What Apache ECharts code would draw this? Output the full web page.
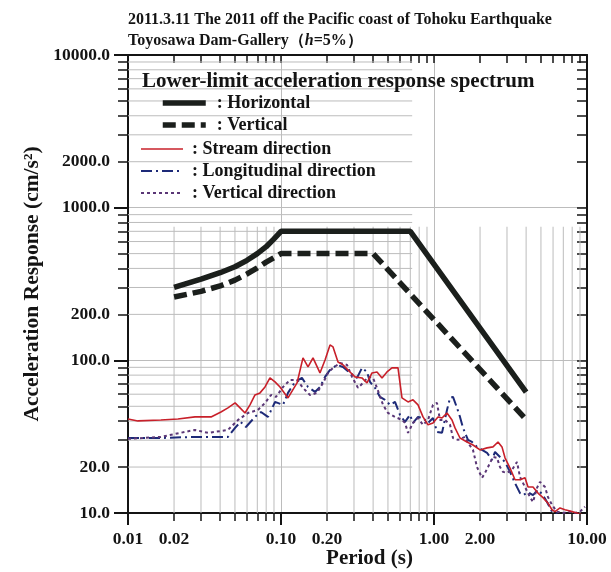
<!DOCTYPE html>
<html><head><meta charset="utf-8">
<script src="https://cdn.jsdelivr.net/npm/echarts@6/dist/echarts.min.js"></script>
<style>html,body{margin:0;padding:0;background:#fff}#c{width:611px;height:572px}</style>
</head><body><div id="c"></div>
<script>
// ---- data ----
const horizLimitPeriods = [0.02,0.03,0.04,0.05,0.06,0.07,0.08,0.09,0.1,0.7,4.0];
const horizLimitValues  = [300,340,375,410,452,500,555,625,700,700,62];
const vertLimitPeriods  = [0.02,0.03,0.04,0.05,0.06,0.07,0.08,0.09,0.1,0.4,4.0];
const vertLimitValues   = [260,283,307,335,368,403,440,470,500,500,41];

const streamPeriods = [0.01,0.0116,0.0164,0.0212,0.0274,0.0349,0.0405,0.045,0.0501,0.054,0.0582,0.0627,0.0676,0.0729,0.0786,0.0847,0.0914,0.0985,0.1111,0.1273,0.1392,0.1502,0.1619,0.1798,0.194,0.2091,0.2188,0.2358,0.2542,0.2825,0.3045,0.3383,0.3649,0.3934,0.4241,0.4573,0.4929,0.5314,0.5817,0.6176,0.6764,0.7292,0.7862,0.8476,0.9138,0.9851,1.062,1.128,1.216,1.311,1.372,1.479,1.643,1.798,1.999,2.221,2.43,2.62,2.782,2.912,3.14,3.384,3.649,3.934,4.116,4.437,4.783,5.157,5.561,5.905,6.177,6.662,7.183,7.745,8.602,9.703];
const streamValues  = [41.3,40.1,40.7,41.3,42.6,42.6,45.9,48.8,52.6,48.8,45.2,51.1,59.3,61.2,66.9,76.7,72.2,66.9,56.7,71.1,103.7,90.5,103.7,82.7,100.6,126.2,122.4,97.6,93.3,83.9,77.9,76.7,71.1,82.7,83.9,76.7,83.9,89.2,89.2,56.7,53.4,55.1,51.1,42.6,37.8,38.9,42.6,41.9,45.2,40.7,36.1,31.0,29.2,27.9,25.9,26.7,27.1,29.2,27.1,23.0,19.7,16.5,16.5,17.0,14.8,14.8,13.5,12.6,11.6,10.5,10.2,10.8,10.5,10.3,10.0,9.6];

const longPeriods = [0.01,0.0164,0.0274,0.0405,0.045,0.0501,0.0544,0.059,0.0676,0.074,0.0822,0.0914,0.1031,0.1111,0.1235,0.137,0.1502,0.1668,0.1798,0.194,0.2091,0.2323,0.2542,0.2825,0.3138,0.3383,0.3649,0.3818,0.4116,0.4437,0.4783,0.5157,0.5561,0.5995,0.6464,0.6969,0.7292,0.7862,0.8476,0.9138,0.9851,1.046,1.128,1.216,1.273,1.331,1.414,1.479,1.547,1.668,1.772,1.91,2.06,2.221,2.394,2.505,2.7,2.912,3.14,3.384,3.649,3.817,4.116,4.437,4.783,5.157,5.479,5.905,6.366,7.0];
const longValues  = [31.0,31.0,31.5,31.5,31.5,36.1,39.5,36.6,42.6,45.9,42.6,53.4,51.1,61.2,72.2,76.7,66.9,62.1,66.9,77.9,86.5,93.3,90.5,82.7,76.7,89.2,83.9,72.2,66.0,57.6,55.1,51.1,53.4,43.9,39.5,43.9,38.9,42.6,41.9,38.9,41.9,34.0,33.5,47.3,56.7,57.6,48.8,42.6,36.1,30.1,29.2,27.1,25.9,24.8,22.3,25.1,23.3,21.6,18.6,15.7,13.5,13.1,13.7,13.1,14.2,13.1,11.8,10.2,9.8,9.0];

const vertDirPeriods = [0.01,0.0164,0.0236,0.0274,0.0333,0.037,0.045,0.0524,0.0608,0.0706,0.0786,0.086,0.0928,0.1031,0.1145,0.1273,0.1392,0.1547,0.1719,0.1882,0.2029,0.2188,0.243,0.2701,0.2912,0.3186,0.3435,0.3705,0.3994,0.4241,0.4642,0.5003,0.5561,0.6176,0.6464,0.6764,0.7292,0.7862,0.8476,0.9138,0.9851,1.046,1.094,1.18,1.273,1.331,1.435,1.594,1.668,1.798,1.91,2.06,2.154,2.254,2.43,2.581,2.7,2.825,3.0,3.236,3.487,3.649,3.934,4.241,4.437,4.711,4.929,5.314,5.561,5.905,6.366,6.969,7.745,8.349,8.998,9.703];
const vertDirValues  = [30.6,31.5,34.0,35.0,33.5,34.0,35.0,40.7,45.2,47.3,52.6,59.3,57.6,66.9,74.4,74.4,66.0,59.3,61.2,71.1,82.7,89.2,96.2,93.3,77.9,66.0,71.1,77.9,76.7,66.0,51.1,45.2,42.6,40.7,38.9,33.5,38.9,41.9,37.8,40.7,51.1,52.6,40.7,40.7,37.8,31.0,30.1,31.5,28.8,25.9,20.0,17.0,18.3,20.0,23.3,23.0,20.0,18.6,18.3,19.2,21.6,17.2,14.8,12.7,11.8,14.6,16.0,14.8,12.7,11.3,10.2,10.0,10.2,10.0,10.2,11.0];

const xTickValues = [0.01,0.02,0.1,0.2,1,2,10];
const xTickLabels = ['0.01','0.02','0.10','0.20','1.00','2.00','10.00'];
const yTickValues = [10,20,100,200,1000,2000,10000];
const yTickLabels = ['10.0','20.0','100.0','200.0','1000.0','2000.0','10000.0'];

// extent of the fine grid: vertical minor lines stop at this acceleration,
// horizontal minor lines stop at this period (as in the original figure)
const gridMinorTopValue = 750;
const gridMinorRightPeriod = 0.72;

// ---- axis tick sets (log decades 1..9) ----
function minorSet(lo, hi) {
  const out = [];
  for (let d = lo; d < hi * 0.999; d *= 10) {
    for (let m = 1; m <= 9; m++) out.push(+(d * m).toPrecision(6));
  }
  out.push(hi);
  return out;
}
function decadeSet(lo, hi) {
  const out = [];
  for (let d = lo; d <= hi * 1.001; d *= 10) out.push(+d.toPrecision(6));
  return out;
}
const xMinor = minorSet(0.01, 10), xMajor = decadeSet(0.01, 10);
const yMinor = minorSet(10, 10000), yMajor = decadeSet(10, 10000);
const xMinorOnly = xMinor.filter(v => xMajor.indexOf(v) < 0);
const yMinorOnly = yMinor.filter(v => yMajor.indexOf(v) < 0);

function lookup(vals, labels) {
  return function (v) {
    for (let i = 0; i < vals.length; i++) if (Math.abs(v / vals[i] - 1) < 1e-6) return labels[i];
    return '';
  };
}
const pair = (p, v) => p.map((t, i) => [t, v[i]]);

const SERIF = "'Liberation Serif','DejaVu Serif',serif";
const INK = '#141414';
const GRID = '#bcbcbc';
const hiddenLbl = { show: false };

const chart = echarts.init(document.getElementById('c'), null, { renderer: 'canvas' });
const baseX = { type: 'log', logBase: 10, min: 0.01, max: 10, gridIndex: 0 };
const baseY = { type: 'log', logBase: 10, min: 10, max: 10000, gridIndex: 0 };

function gridLineSeries(kind) {
  return {
    type: 'custom', coordinateSystem: 'cartesian2d', silent: true, z: 1,
    xAxisIndex: 0, yAxisIndex: 0, clip: false,
    data: kind === 'v' ? xMinorOnly.map(v => [v, 10]) : yMinorOnly.map(v => [0.01, v]),
    renderItem: function (params, api) {
      let p1, p2;
      if (kind === 'v') {
        p1 = api.coord([api.value(0), gridMinorTopValue]);
        p2 = api.coord([api.value(0), 10]);
      } else {
        p1 = api.coord([0.01, api.value(1)]);
        p2 = api.coord([gridMinorRightPeriod, api.value(1)]);
      }
      return { type: 'line', shape: { x1: p1[0], y1: p1[1], x2: p2[0], y2: p2[1] },
        style: { stroke: GRID, lineWidth: 1 } };
    }
  };
}

chart.setOption({
  backgroundColor: '#fff',
  animation: false,
  title: [
    { text: '2011.3.11 The 2011 off the Pacific coast of Tohoku Earthquake', left: 123, top: 7,
      textStyle: { fontFamily: SERIF, fontWeight: 'bold', fontSize: 16, color: INK } },
    { text: 'Toyosawa Dam-Gallery（{i|h}=5%）', left: 123, top: 28,
      textStyle: { fontFamily: SERIF, fontWeight: 'bold', fontSize: 16, color: INK,
        rich: { i: { fontFamily: SERIF, fontWeight: 'bold', fontStyle: 'italic', fontSize: 16, color: INK } } } },
    { text: 'Lower-limit acceleration response spectrum', left: 137, top: 66,
      textStyle: { fontFamily: SERIF, fontWeight: 'bold', fontSize: 21, color: INK } }
  ],
  grid: { left: 128, right: 24, top: 55, bottom: 59, containLabel: false, outerBoundsMode: 'none' },
  legend: [
    { data: ['Horizontal', 'Vertical'], orient: 'vertical', left: 155, top: 89,
      itemWidth: 43, itemHeight: 16, itemGap: 4,
      itemStyle: { opacity: 0 }, lineStyle: { width: 'inherit' },
      formatter: n => ': ' + n,
      textStyle: { fontFamily: SERIF, fontWeight: 'bold', fontSize: 18, lineHeight: 16, color: INK, padding: [0, 0, 0, 6] } },
    { data: ['Stream direction', 'Longitudinal direction', 'Vertical direction'], orient: 'vertical', left: 135, top: 135,
      itemWidth: 42, itemHeight: 16, itemGap: 4,
      itemStyle: { opacity: 0 }, lineStyle: { width: 'inherit' },
      formatter: n => ': ' + n,
      textStyle: { fontFamily: SERIF, fontWeight: 'bold', fontSize: 18, lineHeight: 16, color: INK, padding: [0, 0, 0, 4] } }
  ],
  xAxis: [
    Object.assign({}, baseX, {
      position: 'bottom',
      name: 'Period (s)', nameLocation: 'middle', nameGap: 35, nameMoveOverlap: false,
      nameTextStyle: { fontFamily: SERIF, fontWeight: 'bold', fontSize: 21, color: INK, padding: [0, 0, 0, 24] },
      axisLine: { show: true, lineStyle: { color: INK, width: 2 } },
      axisTick: { show: true, inside: false, length: 8, customValues: xMinor, lineStyle: { color: INK, width: 1.5 } },
      axisLabel: { show: true, customValues: xTickValues, formatter: lookup(xTickValues, xTickLabels), margin: 17,
        fontFamily: SERIF, fontWeight: 'bold', fontSize: 17.5, color: INK },
      splitLine: { show: false }
    }),
    Object.assign({}, baseX, {
      position: 'bottom',
      axisLine: { show: false },
      axisTick: { show: true, inside: false, length: 12, customValues: xMajor, lineStyle: { color: INK, width: 2 } },
      axisLabel: hiddenLbl,
      splitLine: { show: true, lineStyle: { color: GRID, width: 1 } }
    }),
    Object.assign({}, baseX, {
      position: 'top',
      axisLine: { show: true, lineStyle: { color: INK, width: 2 } },
      axisTick: { show: true, inside: true, length: 8, customValues: xMinor, lineStyle: { color: INK, width: 1.5 } },
      axisLabel: hiddenLbl, splitLine: { show: false }
    })
  ],
  yAxis: [
    Object.assign({}, baseY, {
      position: 'left',
      name: 'Acceleration Response (cm/s²)', nameLocation: 'middle', nameGap: 85, nameRotate: 90, nameMoveOverlap: false,
      nameTextStyle: { fontFamily: SERIF, fontWeight: 'bold', fontSize: 21.5, color: INK },
      axisLine: { show: true, lineStyle: { color: INK, width: 2 } },
      axisTick: { show: true, inside: false, length: 10, customValues: yMinor, lineStyle: { color: INK, width: 1.5 } },
      axisLabel: { show: true, customValues: yTickValues, formatter: lookup(yTickValues, yTickLabels), margin: 18,
        fontFamily: SERIF, fontWeight: 'bold', fontSize: 17.5, color: INK },
      splitLine: { show: false }
    }),
    Object.assign({}, baseY, {
      position: 'left',
      axisLine: { show: false },
      axisTick: { show: true, inside: false, length: 14, customValues: yMajor, lineStyle: { color: INK, width: 2 } },
      axisLabel: hiddenLbl,
      splitLine: { show: true, lineStyle: { color: GRID, width: 1 } }
    }),
    Object.assign({}, baseY, {
      position: 'right',
      axisLine: { show: true, lineStyle: { color: INK, width: 2 } },
      axisTick: { show: true, inside: true, length: 10, customValues: yMinor, lineStyle: { color: INK, width: 1.5 } },
      axisLabel: hiddenLbl, splitLine: { show: false }
    })
  ],
  series: [
    gridLineSeries('v'),
    gridLineSeries('h'),
    { name: 'Horizontal', type: 'line', data: pair(horizLimitPeriods, horizLimitValues), symbol: 'none',
      lineStyle: { color: '#1b1f1c', width: 5.5, type: 'solid' }, itemStyle: { color: '#1b1f1c' }, z: 5 },
    { name: 'Vertical', type: 'line', data: pair(vertLimitPeriods, vertLimitValues), symbol: 'none',
      lineStyle: { color: '#1b1f1c', width: 5.5, type: [13, 6] }, itemStyle: { color: '#1b1f1c' }, z: 5 },
    { name: 'Stream direction', type: 'line', data: pair(streamPeriods, streamValues), symbol: 'none',
      lineStyle: { color: '#c8202a', width: 1.6 }, itemStyle: { color: '#c8202a' }, z: 4 },
    { name: 'Longitudinal direction', type: 'line', data: pair(longPeriods, longValues), symbol: 'none',
      lineStyle: { color: '#1d2a78', width: 2, type: [11, 4, 2, 4] }, itemStyle: { color: '#1d2a78' }, z: 3 },
    { name: 'Vertical direction', type: 'line', data: pair(vertDirPeriods, vertDirValues), symbol: 'none',
      lineStyle: { color: '#5a3676', width: 2, type: [3, 3] }, itemStyle: { color: '#5a3676' }, z: 3 }
  ]
});
</script>
</body></html>
